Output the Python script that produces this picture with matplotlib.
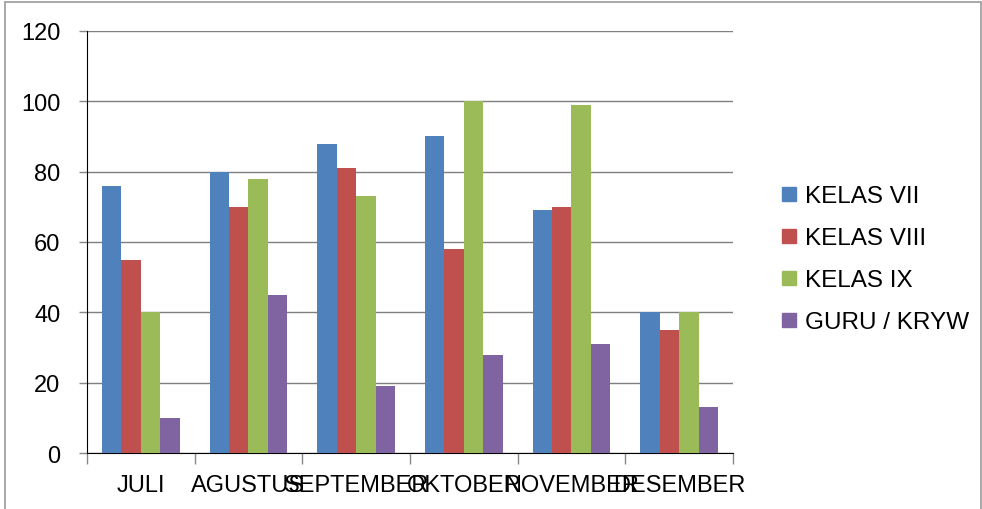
import numpy as np
import matplotlib.pyplot as plt
from matplotlib.patches import Rectangle
from matplotlib.lines import Line2D

plt.rcParams['font.family'] = ['Liberation Sans', 'DejaVu Sans']

months = ['JULI', 'AGUSTUS', 'SEPTEMBER', 'OKTOBER', 'NOVEMBER', 'DESEMBER']
kelas_vii = [76, 80, 88, 90, 69, 40]
kelas_viii = [55, 70, 81, 58, 70, 35]
kelas_ix = [40, 78, 73, 100, 99, 40]
guru_kryw = [10, 45, 19, 28, 31, 13]
series_names = ['KELAS VII', 'KELAS VIII', 'KELAS IX', 'GURU / KRYW']
colors = ['#4F81BD', '#C0504D', '#9BBB59', '#8064A2']

fig = plt.figure(figsize=(9.82, 5.10), dpi=100)
ax = fig.add_axes([0.0886, 0.1098, 0.6578, 0.8275])

x = np.arange(len(months))
width = 0.18
for i, (vals, c) in enumerate(zip([kelas_vii, kelas_viii, kelas_ix, guru_kryw], colors)):
    ax.bar(x + (i - 1.5) * width, vals, width=width, color=c, zorder=3)

ax.set_xlim(-0.5, len(months) - 0.5)
ax.set_ylim(0, 120)
ax.set_yticks(range(0, 121, 20))
ax.yaxis.grid(True, color='#7f7f7f', linewidth=1.0, zorder=0)
ax.tick_params(axis='y', labelsize=17, length=6, width=1, color='#888888', pad=13)

ax.set_xticks(x)
ax.set_xticklabels(months)
ax.set_xticks(np.arange(-0.5, len(months)), minor=True)
ax.tick_params(axis='x', which='major', length=0, labelsize=17, pad=15)
ax.tick_params(axis='x', which='minor', length=8, width=1, color='#888888')

for side in ['top', 'right']:
    ax.spines[side].set_visible(False)
ax.spines['left'].set_color('black')
ax.spines['bottom'].set_color('black')

handles = [Line2D([], [], marker='s', linestyle='none', markersize=10,
                  markerfacecolor=c, markeredgecolor=c) for c in colors]
fig.legend(handles, series_names, loc='center left', bbox_to_anchor=(0.769, 0.49),
           frameon=False, fontsize=17.5, handletextpad=0.15, labelspacing=0.82,
           handlelength=1.0)

# outer chart frame
fig.patches.append(Rectangle((0.005, -0.05), 0.994, 1.044, transform=fig.transFigure,
                             fill=False, edgecolor='#999999', linewidth=1.2))

fig.savefig('out.png', dpi=100)
